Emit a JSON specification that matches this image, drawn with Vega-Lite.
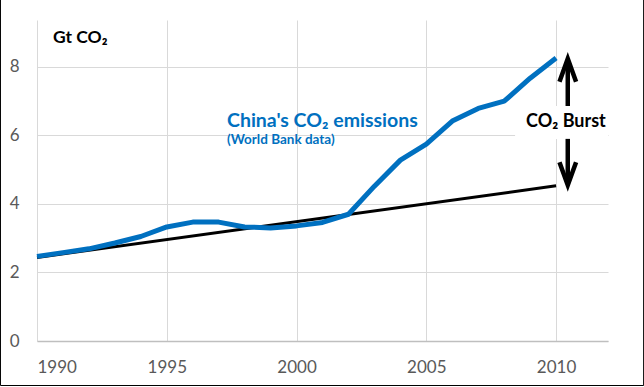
{
  "$schema": "https://vega.github.io/schema/vega-lite/v6.json",
  "autosize": {"type": "none"},
  "padding": {"left": 37, "top": 20, "right": 36, "bottom": 46},
  "width": 571,
  "height": 321,
  "background": "white",
  "config": {
    "view": {"stroke": null},
    "font": "Lato",
    "axis": {"labelFont": "Lato", "labelFontSize": 17, "labelColor": "#595959", "gridColor": "#d9d9d9", "gridWidth": 1, "ticks": false, "title": null}
  },
  "datasets": {
    "china": [
      {"year": 1990, "value": 2.47},
      {"year": 1991, "value": 2.58},
      {"year": 1992, "value": 2.69},
      {"year": 1993, "value": 2.86},
      {"year": 1994, "value": 3.05},
      {"year": 1995, "value": 3.33},
      {"year": 1996, "value": 3.47},
      {"year": 1997, "value": 3.47},
      {"year": 1998, "value": 3.33},
      {"year": 1999, "value": 3.3},
      {"year": 2000, "value": 3.36},
      {"year": 2001, "value": 3.46},
      {"year": 2002, "value": 3.7},
      {"year": 2003, "value": 4.52},
      {"year": 2004, "value": 5.28},
      {"year": 2005, "value": 5.75},
      {"year": 2006, "value": 6.42},
      {"year": 2007, "value": 6.79},
      {"year": 2008, "value": 7.0},
      {"year": 2009, "value": 7.67},
      {"year": 2010, "value": 8.26}
    ],
    "trend": [
      {"year": 1990, "value": 2.44},
      {"year": 2010, "value": 4.53}
    ],
    "arrows": [
      {"g": "upshaft", "o": 1, "x": 2010.45, "y": 8.15},
      {"g": "upshaft", "o": 2, "x": 2010.45, "y": 6.86},
      {"g": "uphead", "o": 1, "x": 2010.13, "y": 7.57},
      {"g": "uphead", "o": 2, "x": 2010.45, "y": 8.24},
      {"g": "uphead", "o": 3, "x": 2010.77, "y": 7.57},
      {"g": "downshaft", "o": 1, "x": 2010.45, "y": 5.9},
      {"g": "downshaft", "o": 2, "x": 2010.45, "y": 4.62},
      {"g": "downhead", "o": 1, "x": 2010.13, "y": 5.22},
      {"g": "downhead", "o": 2, "x": 2010.45, "y": 4.55},
      {"g": "downhead", "o": 3, "x": 2010.77, "y": 5.22}
    ],
    "boxes": [
      {"kind": "labelbox", "x1": 2008.42, "x2": 2012.0, "y1": 5.9, "y2": 6.86},
      {"kind": "frame", "x1": 1988.593, "x2": 2013.372, "y1": -1.299, "y2": 10.5}
    ],
    "labels": [
      {"t": "Gt CO₂", "x": 1990.62, "y": 8.71, "kind": "unit"},
      {"t": "China's CO₂ emissions", "x": 1997.32, "y": 6.25, "kind": "title"},
      {"t": "(World Bank data)", "x": 1997.32, "y": 5.75, "kind": "sub"},
      {"t": "CO₂ Burst", "x": 2010.38, "y": 6.25, "kind": "burst"}
    ]
  },
  "layer": [
    {
      "data": {"name": "trend"},
      "mark": {"type": "line", "color": "#000000", "strokeWidth": 3},
      "encoding": {
        "x": {"field": "year", "type": "quantitative", "scale": {"domain": [1990, 2012], "nice": false, "zero": false},
          "axis": {"values": [1990, 1995, 2000, 2005, 2010], "format": "d", "grid": true, "domain": true, "domainColor": "#bfbfbf", "domainWidth": 1.5, "labelPadding": 18}},
        "y": {"field": "value", "type": "quantitative", "scale": {"domain": [0, 9.37], "nice": false},
          "axis": {"values": [0, 2, 4, 6, 8], "grid": true, "domain": false, "labelPadding": 18}}
      }
    },
    {
      "data": {"name": "boxes"},
      "transform": [{"filter": "datum.kind == 'labelbox'"}],
      "mark": {"type": "rect", "fill": "white", "stroke": null},
      "encoding": {
        "x": {"field": "x1", "type": "quantitative"},
        "x2": {"field": "x2"},
        "y": {"field": "y1", "type": "quantitative"},
        "y2": {"field": "y2"}
      }
    },
    {
      "data": {"name": "china"},
      "mark": {"type": "line", "color": "#0070c0", "strokeWidth": 5, "strokeJoin": "round"},
      "encoding": {
        "x": {"field": "year", "type": "quantitative"},
        "y": {"field": "value", "type": "quantitative"}
      }
    },
    {
      "data": {"name": "arrows"},
      "mark": {"type": "line", "color": "#000000", "strokeWidth": 4.5, "strokeJoin": "miter", "strokeCap": "butt"},
      "encoding": {
        "x": {"field": "x", "type": "quantitative"},
        "y": {"field": "y", "type": "quantitative"},
        "detail": {"field": "g"},
        "order": {"field": "o"}
      }
    },
    {
      "data": {"name": "labels"},
      "transform": [{"filter": "datum.kind == 'unit'"}],
      "mark": {"type": "text", "align": "left", "baseline": "alphabetic", "fontSize": 17.5, "fontWeight": "bold", "color": "#000000", "font": "Lato"},
      "encoding": {"x": {"field": "x", "type": "quantitative"}, "y": {"field": "y", "type": "quantitative"}, "text": {"field": "t"}}
    },
    {
      "data": {"name": "labels"},
      "transform": [{"filter": "datum.kind == 'title'"}],
      "mark": {"type": "text", "align": "left", "baseline": "alphabetic", "fontSize": 19.5, "fontWeight": "bold", "color": "#0070c0", "font": "Lato"},
      "encoding": {"x": {"field": "x", "type": "quantitative"}, "y": {"field": "y", "type": "quantitative"}, "text": {"field": "t"}}
    },
    {
      "data": {"name": "labels"},
      "transform": [{"filter": "datum.kind == 'sub'"}],
      "mark": {"type": "text", "align": "left", "baseline": "alphabetic", "fontSize": 13.5, "fontWeight": "bold", "color": "#0070c0", "font": "Lato"},
      "encoding": {"x": {"field": "x", "type": "quantitative"}, "y": {"field": "y", "type": "quantitative"}, "text": {"field": "t"}}
    },
    {
      "data": {"name": "labels"},
      "transform": [{"filter": "datum.kind == 'burst'"}],
      "mark": {"type": "text", "align": "center", "baseline": "alphabetic", "fontSize": 18, "fontWeight": "bold", "color": "#000000", "font": "Lato"},
      "encoding": {"x": {"field": "x", "type": "quantitative"}, "y": {"field": "y", "type": "quantitative"}, "text": {"field": "t"}}
    },
    {
      "data": {"name": "boxes"},
      "transform": [{"filter": "datum.kind == 'frame'"}],
      "mark": {"type": "rect", "fill": null, "stroke": "#000000", "strokeWidth": 1, "clip": false},
      "encoding": {
        "x": {"field": "x1", "type": "quantitative"},
        "x2": {"field": "x2"},
        "y": {"field": "y1", "type": "quantitative"},
        "y2": {"field": "y2"}
      }
    }
  ]
}
